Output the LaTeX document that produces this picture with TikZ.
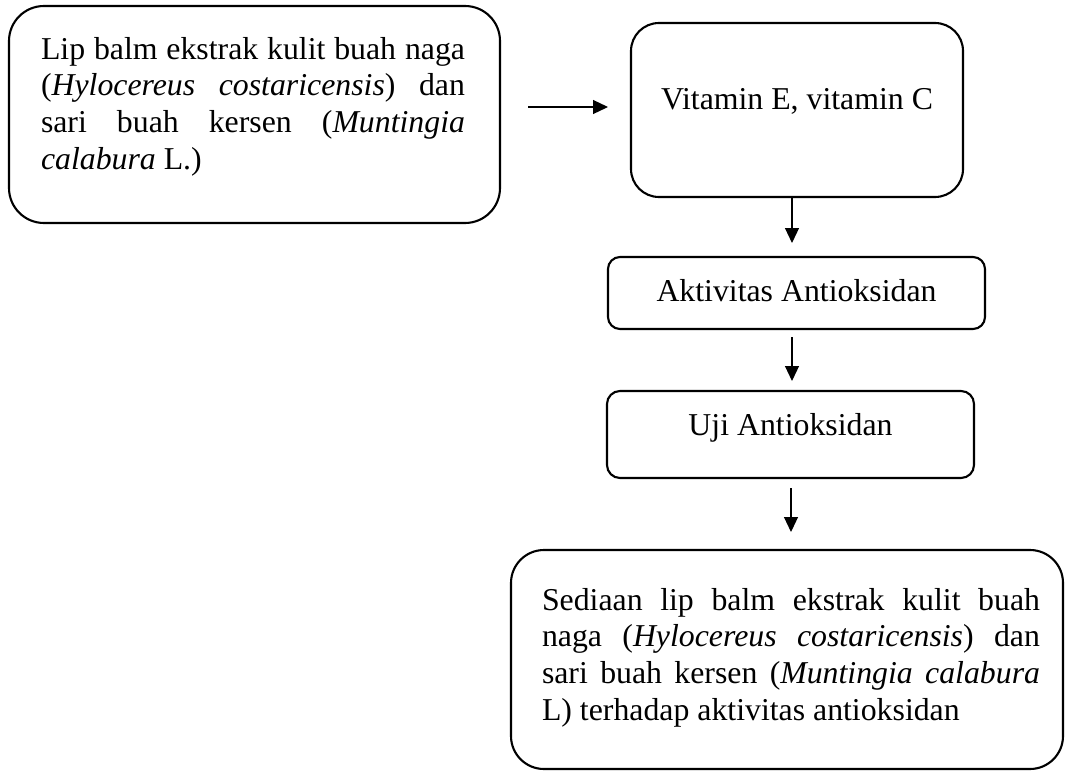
\documentclass[tikz,border=0pt]{standalone}
\usepackage{fontspec}
\setmainfont{Liberation Serif}
\usetikzlibrary{arrows.meta}
\newcommand\jline[2]{\hbox to #1{\spaceskip=.25em plus 1fil\relax #2}}
\newcommand\nline[1]{\hbox{\spaceskip=.25em\relax #1}}
\begin{document}
\begin{tikzpicture}[x=1pt,y=-1pt,
  box/.style={draw,line width=2.1pt,inner sep=0pt,outer sep=0pt},
  arr/.style={line width=1.2pt,-{Triangle[length=15pt,width=14pt]}},
  txt/.style={inner sep=0pt,outer sep=0pt,font=\fontsize{31.8}{36.7}\selectfont}]
\useasboundingbox (0,0) rectangle (1065,771);
% boxes
\node[box,rounded corners=35pt,minimum width=491pt,minimum height=217pt] (b1) at (254.5,114.5) {};
\node[box,rounded corners=28pt,minimum width=332pt,minimum height=174pt] (b2) at (797,110) {};
\node[box,rounded corners=12pt,minimum width=377pt,minimum height=72pt] (b3) at (796.5,293) {};
\node[box,rounded corners=13pt,minimum width=367pt,minimum height=87pt] (b4) at (790.5,434.5) {};
\node[box,rounded corners=33pt,minimum width=552pt,minimum height=219pt] (b5) at (787,659.5) {};
% texts
\node[txt,anchor=base west,text width=425pt,align=left] (t1) at (41,59) {%
\jline{424pt}{Lip balm ekstrak kulit buah naga}
\jline{424pt}{(\textit{Hylocereus costaricensis}) dan}
\jline{424pt}{sari buah kersen (\textit{Muntingia}}
\nline{\textit{calabura} L.)}};
\node[txt,anchor=base] (t2) at (797,109) {Vitamin E, vitamin C};
\node[txt,anchor=base] (t3) at (796.5,301) {Aktivitas Antioksidan};
\node[txt,anchor=base] (t4) at (790.5,435) {Uji Antioksidan};
\node[txt,anchor=base west,text width=498pt,align=left] (t5) at (542,610) {%
\jline{498pt}{Sediaan lip balm ekstrak kulit buah}
\jline{498pt}{naga (\textit{Hylocereus costaricensis}) dan}
\jline{498pt}{sari buah kersen (\textit{Muntingia calabura}}
\nline{L) terhadap aktivitas antioksidan}};
% arrows
\draw[arr,shorten <=28pt,shorten >=23pt] ([yshift=7.5pt]b1.east) -- ([yshift=3pt]b2.west);
\draw[arr,shorten <=1pt,shorten >=14pt] ([xshift=-5pt]b2.south) -- ([xshift=-4.5pt]b3.north);
\draw[arr,shorten <=8pt,shorten >=10pt] ([xshift=-4.5pt]b3.south) -- ([xshift=1.5pt]b4.north);
\draw[arr,shorten <=10pt,shorten >=18pt] ([xshift=0.5pt]b4.south) -- ([xshift=4pt]b5.north);
\end{tikzpicture}
\end{document}
